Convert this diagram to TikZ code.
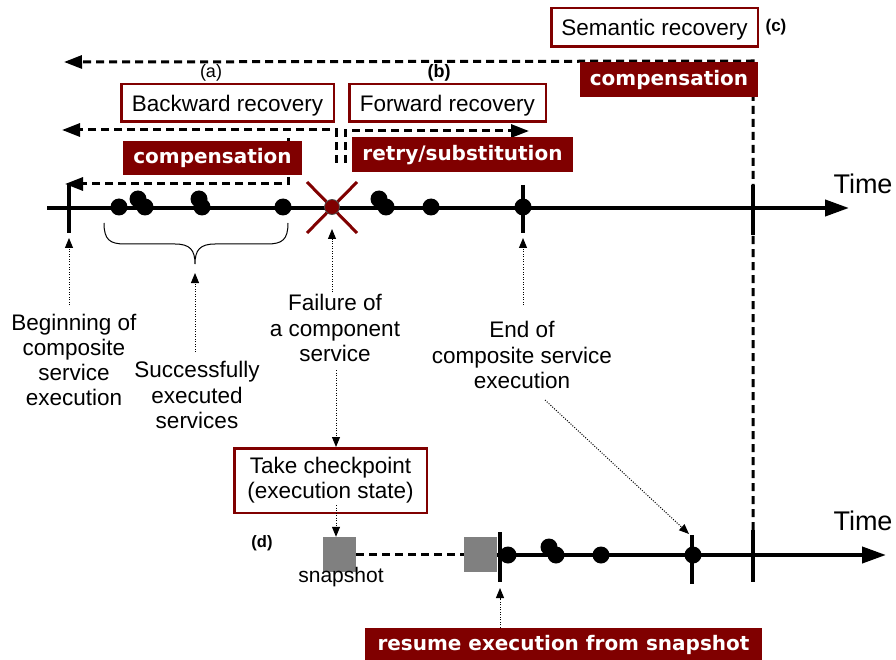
\documentclass[tikz,border=0pt]{standalone}
\usepackage{fontspec}
\setmainfont{Liberation Sans}
\newfontfamily\tagfont{DejaVu Sans}
\usetikzlibrary{arrows.meta}
\definecolor{wsred}{RGB}{128,0,0}
\definecolor{boxgray}{RGB}{128,128,128}
\tikzset{
  txt/.style={font=\fontsize{22.5}{25.3}\selectfont, align=center, inner sep=0pt},
  outlinebox/.style={draw=wsred, line width=2.5pt, fill=white, inner sep=0pt,
    font=\fontsize{22.5}{25.3}\selectfont, align=center},
  onerow/.style={text height=16.2pt, text depth=0pt},
  tagbox/.style={fill=wsred, text=white, inner sep=0pt, text height=12pt, text depth=0pt,
    font=\tagfont\bfseries\fontsize{20}{24}\selectfont},
  marker/.style={inner sep=0pt, font=\fontsize{18}{20}\selectfont},
  dashflow/.style={line width=3pt, dash pattern=on 8pt off 5pt},
  bigtip/.style={-{Triangle[length=18pt,width=13pt]}},
  hint/.style={line width=1pt, dash pattern=on 1pt off 1.5pt,
    -{Triangle[length=10pt,width=8pt]}},
  axis/.style={line width=4pt, -{Triangle[length=24pt,width=16pt]}},
  tickmark/.style={line width=4pt},
  event/.style={circle, fill=black, inner sep=0pt, minimum size=17pt},
  snap/.style={fill=boxgray, inner sep=0pt, minimum width=33pt, minimum height=35pt},
  timelabel/.style={inner sep=0pt, font=\fontsize{27}{30}\selectfont},
}
\begin{document}
\begin{tikzpicture}[x=1pt,y=-1pt]
\useasboundingbox (0,0) rectangle (896,660);

% ---------- first time line ----------
\coordinate (t1start) at (47,208);
\coordinate (t1end)   at (849,208);
\coordinate (beginTop) at (69,185);  \coordinate (beginBot) at (69,233);
\coordinate (endTop)   at (523,185); \coordinate (endBot)   at (523,233);
\coordinate (semTop)   at (753,185); \coordinate (semBot)   at (753,235);

% ---------- second time line ----------
\coordinate (t2start) at (497,555);
\coordinate (t2end)   at (886,555);
\coordinate (resTop)  at (500,532); \coordinate (resBot)  at (500,582);
\coordinate (fin2Top) at (692,535); \coordinate (fin2Bot) at (692,584);
\coordinate (sem2Top) at (753,530); \coordinate (sem2Bot) at (753,582);

% ---------- recovery flows (dashed) ----------
\coordinate (semCorner) at (753,61);
\coordinate (semTip)    at (64,62);
\draw[dashflow, bigtip] (sem2Top) -- (semCorner) -- (semTip);

\coordinate (bwdFoot)   at (336,163);
\coordinate (bwdCorner) at (336,130);
\coordinate (bwdTip)    at (62,130);
\draw[dashflow, bigtip] (bwdFoot) -- (bwdCorner) -- (bwdTip);

\coordinate (fwdFoot)   at (345,163);
\coordinate (fwdCorner) at (345,131);
\coordinate (fwdTip)    at (529,131);
\draw[dashflow, bigtip] (fwdFoot) -- (fwdCorner) -- (fwdTip);

\coordinate (cmpFoot)   at (288,138);
\coordinate (cmpCorner) at (288,184);
\coordinate (cmpTip)    at (65,184);
\draw[dashflow, bigtip] (cmpFoot) -- (cmpCorner) -- (cmpTip);

% ---------- strategy boxes ----------
\node[outlinebox, onerow, minimum width=212.5pt, minimum height=37.5pt] (bwd) at (227.5,103) {Backward recovery};
\node[outlinebox, onerow, minimum width=196.5pt, minimum height=37.5pt] (fwd) at (447.5,103) {Forward recovery};
\node[outlinebox, onerow, minimum width=206.5pt, minimum height=38.5pt] (sem) at (654.5,27.5) {Semantic recovery};
\node[tagbox, minimum width=179pt, minimum height=34pt] (compA) at (212.5,158) {compensation};
\node[tagbox, minimum width=221pt, minimum height=35pt] (retry) at (462.5,154.5) {retry/substitution};
\node[tagbox, minimum width=178pt, minimum height=35pt] (compC) at (669,79.5) {compensation};

\node[marker] (tagA) at (211,73) {(a)};
\node[marker, font=\bfseries\fontsize{18}{20}\selectfont] (tagB) at (439,73) {(b)};
\node[marker, font=\bfseries\fontsize{17}{20}\selectfont] (tagC) at (776,27) {(c)};

% ---------- first time line drawing ----------
\draw[axis] (t1start) -- (t1end);
\draw[tickmark] (beginTop) -- (beginBot);
\draw[tickmark] (endTop) -- (endBot);
\draw[tickmark] (semTop) -- (semBot);
\node[timelabel] (time1) at (863,184) {Time};

\node[event] (s1) at (119,207) {};
\node[event] (s2) at (138,199) {};
\node[event] (s3) at (145,207) {};
\node[event] (s4) at (199,199) {};
\node[event] (s5) at (202,207) {};
\node[event] (s6) at (283,207) {};
\draw[wsred, line width=3pt] (307,182) -- (357,233) (357,182) -- (307,233);
\node[event, fill=wsred, draw=black!70, line width=0.8pt, minimum size=15pt] (fail) at (332,207) {};
\node[event] (r1) at (379,199) {};
\node[event] (r2) at (386,207) {};
\node[event] (r3) at (431,207) {};
\node[event] (r4) at (523,207) {};

% brace under the completed services
\draw[line width=1pt] (104,223) .. controls (104,240) and (110,244) .. (125,244)
  -- (175,244) .. controls (190,244) and (195,250) .. (195,264)
  .. controls (195,250) and (200,244) .. (215,244)
  -- (267,244) .. controls (282,244) and (288,240) .. (288,223);

% ---------- annotations ----------
\node[txt] (begin)   at (74,360)  {Beginning of\\composite\\service\\execution};
\node[txt] (success) at (197,395) {Successfully\\executed\\services};
\node[txt] (failure) at (335,328) {Failure of\\a component\\service};
\node[txt] (finish)  at (522,355) {End of\\composite service\\execution};

\coordinate (beginFoot)   at (69,305);  \coordinate (beginTip)   at (69,238);
\coordinate (successFoot) at (195,352); \coordinate (successTip) at (195,273);
\coordinate (failFoot)    at (332,292); \coordinate (failTip)    at (332,229);
\coordinate (finishFoot)  at (523,305); \coordinate (finishTip)  at (523,238);
\coordinate (failDown)    at (336,370);
\coordinate (finishDiag)  at (545,400); \coordinate (finishTip2) at (689,534);
\draw[hint] (beginFoot) -- (beginTip);
\draw[hint] (successFoot) -- (successTip);
\draw[hint] (failFoot) -- (failTip);
\draw[hint] (finishFoot) -- (finishTip);
\draw[hint] (finishDiag) -- (finishTip2);

% ---------- checkpointing ----------
\node[outlinebox, minimum width=192.5pt, minimum height=64.5pt] (chk) at (330.5,480.5) {Take checkpoint\\(execution state)};
\draw[hint] (failDown) -- (chk.north -| failDown);

\node[snap] (snapA) at (339.5,554.5) {};
\node[snap] (snapB) at (480.5,554.5) {};
\coordinate (chkFoot) at (336,505);
\draw[hint] (chkFoot) -- (chkFoot |- snapA.north);
\draw[line width=3pt, dash pattern=on 8pt off 5pt] (snapA.east) -- (snapB.west);
\node[inner sep=0pt, font=\fontsize{21}{24}\selectfont] (snaplabel) at (341,577) {snapshot};
\node[marker, font=\bfseries\fontsize{16.5}{20}\selectfont] (tagD) at (262,543) {(d)};

% ---------- second time line drawing ----------
\draw[axis] (t2start) -- (t2end);
\draw[tickmark] (resTop) -- (resBot);
\draw[tickmark] (fin2Top) -- (fin2Bot);
\draw[tickmark] (sem2Top) -- (sem2Bot);
\node[timelabel] (time2) at (863,521) {Time};

\node[event] (e1) at (508,555) {};
\node[event] (e2) at (549,547) {};
\node[event] (e3) at (556,555) {};
\node[event] (e4) at (601,555) {};
\node[event] (e5) at (693,555) {};

\node[tagbox, minimum width=397pt, minimum height=33pt] (resume) at (563.5,644.5) {resume execution from snapshot};
\coordinate (resumeTip) at (500,588);
\draw[hint] (resume.north -| resumeTip) -- (resumeTip);
\end{tikzpicture}
\end{document}
